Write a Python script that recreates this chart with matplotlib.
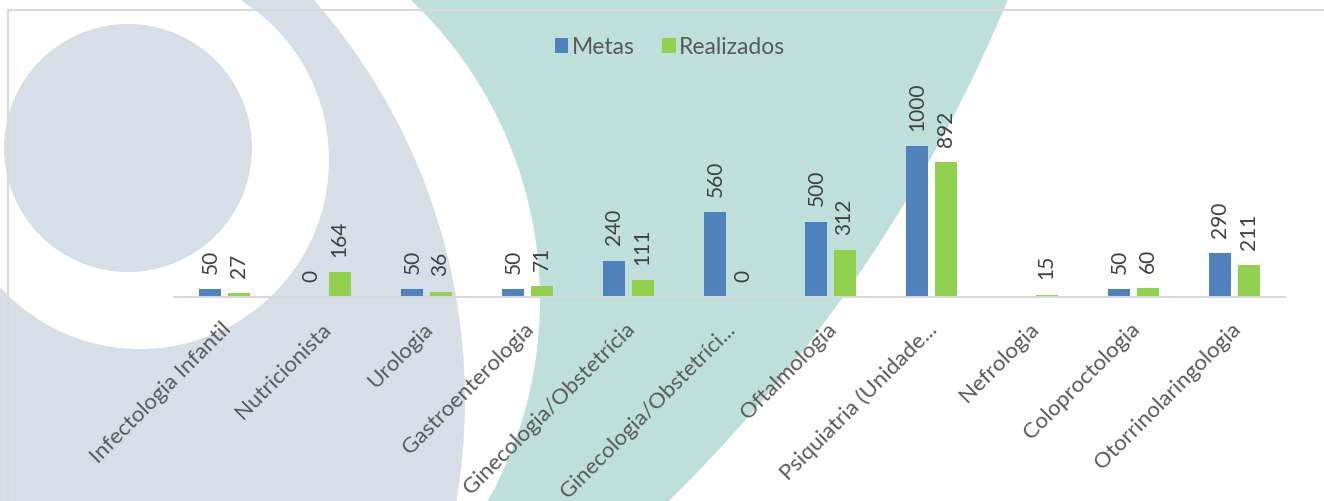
import numpy as np
import matplotlib
matplotlib.use('Agg')
import matplotlib.pyplot as plt
import matplotlib.transforms as mtransforms
from matplotlib.patches import Circle, Polygon

categories = ['Infectologia Infantil', 'Nutricionista', 'Urologia', 'Gastroenterologia',
              'Ginecologia/Obstetrícia', 'Ginecologia/Obstetríci...', 'Oftalmologia',
              'Psiquiatria (Unidade...', 'Nefrologia', 'Coloproctologia',
              'Otorrinolaringologia']
metas = [50, 0, 50, 50, 240, 560, 500, 1000, np.nan, 50, 290]
realizados = [27, 164, 36, 71, 111, 0, 312, 892, 15, 60, 211]

c_metas = '#4F81BD'
c_real = '#92D050'
teal = '#BFE0DA'
grayblue = '#D6DFE7'

plt.rcParams['font.family'] = ['Lato', 'DejaVu Sans']

W, H = 1324, 501
fig = plt.figure(figsize=(W / 100, H / 100), dpi=100)

# decorative background, in pixel units (y down)
bg = fig.add_axes([0, 0, 1, 1], zorder=0)
bg.set_xlim(0, W)
bg.set_ylim(H, 0)
bg.axis('off')
bg.add_patch(Circle((-398, -586), 1523, color=teal, lw=0))
bg.add_patch(Circle((127, 300), 413, color='white', lw=0))
bg.add_patch(Circle((-140, 400), 605, color=grayblue, lw=0))
bg.add_patch(Circle((140, 160), 189, color='white', lw=0))
bg.add_patch(Polygon([(-5, -5), (243, -5), (140, 160), (-5, 283)], color='white', lw=0))
bg.add_patch(Circle((128, 148), 124, color=grayblue, lw=0))
bg.plot([8, W], [10, 10], color='#D9D9D9', lw=1.5)
bg.plot([8, 8], [10, H], color='#D9D9D9', lw=1.5)

ax = fig.add_axes([174 / W, (H - 297) / H, 1111 / W, 181.2 / H], zorder=1)
ax.patch.set_alpha(0)

x = np.arange(len(categories))
bw = 0.218
off = 0.139
b1 = ax.bar(x - off, metas, bw, color=c_metas, label='Metas', zorder=2)
b2 = ax.bar(x + off, realizados, bw, color=c_real, label='Realizados', zorder=2)

for xs, vals in ((x - off, metas), (x + off, realizados)):
    for xi, v in zip(xs, vals):
        if np.isnan(v):
            continue
        ax.annotate(f'{int(v)}', (xi, v), xytext=(0, 11), textcoords='offset points',
                    rotation=90, ha='center', va='bottom', fontsize=15, color='#404040')

ax.set_xlim(-0.5, len(categories) - 0.5)
ax.set_ylim(0, 1200)
ax.set_yticks([])
for s in ['top', 'right', 'left']:
    ax.spines[s].set_visible(False)
ax.spines['bottom'].set_color('#D9D9D9')
ax.spines['bottom'].set_linewidth(1.5)
ax.set_xticks(x)
ax.set_xticklabels(categories, rotation=45, ha='right', va='top',
                   fontsize=16, color='#595959')
ax.tick_params(axis='x', length=0, pad=16)
shift = mtransforms.ScaledTranslation(10 / 100, 0, fig.dpi_scale_trans)
for lab in ax.get_xticklabels():
    lab.set_transform(lab.get_transform() + shift)

fig.legend(handles=[b1, b2], loc='center', bbox_to_anchor=(670 / W, (H - 47) / H),
           ncol=2, frameon=False, fontsize=16.5, handlelength=0.6, handleheight=0.6,
           handletextpad=0.15, columnspacing=1.2, labelcolor='#595959')

fig.savefig('out.png', dpi=100)
